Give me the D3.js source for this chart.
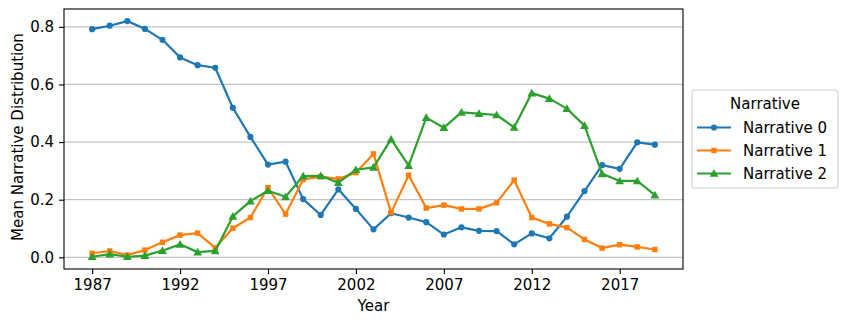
<!DOCTYPE html>
<html>
<head>
<meta charset="utf-8">
<script src="https://cdn.jsdelivr.net/npm/d3@7"></script>
<style>
    body { margin: 0; background: #fff; }
    svg text { font-family: "DejaVu Sans", sans-serif; fill: #000; }
</style>
</head>
<body>
<div id="chart"></div>
<script>
// data
const years = d3.range(1987, 2020);
const narrative0 = [0.792, 0.804, 0.820, 0.793, 0.755, 0.694, 0.667, 0.658, 0.519, 0.418,
    0.322, 0.332, 0.202, 0.147, 0.236, 0.168, 0.097, 0.153, 0.138, 0.122,
    0.079, 0.104, 0.092, 0.091, 0.045, 0.083, 0.066, 0.141, 0.230, 0.320,
    0.307, 0.399, 0.391];
const narrative1 = [0.014, 0.022, 0.008, 0.025, 0.052, 0.077, 0.084, 0.033, 0.101, 0.138,
    0.242, 0.150, 0.270, 0.280, 0.272, 0.294, 0.359, 0.155, 0.285, 0.171,
    0.181, 0.168, 0.168, 0.189, 0.268, 0.138, 0.116, 0.103, 0.062, 0.032,
    0.044, 0.036, 0.027];
const narrative2 = [0.002, 0.011, 0.002, 0.006, 0.023, 0.045, 0.018, 0.022, 0.142, 0.195,
    0.231, 0.210, 0.282, 0.283, 0.259, 0.304, 0.312, 0.410, 0.318, 0.485,
    0.450, 0.503, 0.499, 0.494, 0.451, 0.570, 0.551, 0.516, 0.457, 0.290,
    0.265, 0.265, 0.216];
const seriesNames = ['Narrative 0', 'Narrative 1', 'Narrative 2'];
const yTicks = [0, 0.2, 0.4, 0.6, 0.8];
const xTicks = [1987, 1992, 1997, 2002, 2007, 2012, 2017];

const colors = ['#1f77b4', '#ff7f0e', '#2ca02c'];
const symbols = [d3.symbolCircle, d3.symbolSquare, d3.symbolTriangle];
const symbolSizes = [30, 30, 34];

const series = [narrative0, narrative1, narrative2].map((vals, i) => ({
    name: seriesNames[i],
    values: vals.map((v, j) => ({year: years[j], value: v}))
}));

// layout
const width = 847, height = 324;
const margin = {t: 9, r: 164, b: 55, l: 64};
const w = width - margin.l - margin.r;
const h = height - margin.t - margin.b;

const svg = d3.select('#chart')
    .append('svg')
    .attr('width', width)
    .attr('height', height);

const plot = svg.append('g')
    .attr('transform', `translate(${margin.l},${margin.t})`);

// scales (matplotlib-style 5% margins)
const xPad = (2019 - 1987) * 0.05;
const scaleX = d3.scaleLinear()
    .domain([1987 - xPad, 2019 + xPad])
    .range([0, w]);
const scaleY = d3.scaleLinear()
    .domain([-0.0406, 0.862])
    .range([h, 0]);

// grid lines
plot.append('g')
    .selectAll('line')
    .data(yTicks)
    .join('line')
    .attr('x1', 0)
    .attr('x2', w)
    .attr('y1', d => scaleY(d))
    .attr('y2', d => scaleY(d))
    .style('stroke', '#c4c4c4')
    .style('stroke-width', 1.2);

// lines + markers
const line = d3.line()
    .x(d => scaleX(d.year))
    .y(d => scaleY(d.value));

const groups = plot.selectAll('.series')
    .data(series)
    .join('g')
    .attr('class', 'series');

groups.append('path')
    .attr('d', d => line(d.values))
    .style('fill', 'none')
    .style('stroke', (d, i) => colors[i])
    .style('stroke-width', 2.2)
    .style('stroke-linejoin', 'round');

groups.each(function(d, i) {
    d3.select(this).selectAll('.marker')
        .data(d.values)
        .join('path')
        .attr('class', 'marker')
        .attr('transform', p => `translate(${scaleX(p.year)},${scaleY(p.value) + (i === 2 ? 0.8 : 0)})`)
        .attr('d', d3.symbol().type(symbols[i]).size(symbolSizes[i]))
        .style('fill', colors[i]);
});

// axes
const axisX = d3.axisBottom(scaleX)
    .tickValues(xTicks)
    .tickFormat(d3.format('d'))
    .tickSize(5)
    .tickPadding(5);
const axisY = d3.axisLeft(scaleY)
    .tickValues(yTicks)
    .tickFormat(d3.format('.1f'))
    .tickSize(5)
    .tickPadding(5);

const axisXNode = plot.append('g')
    .attr('transform', `translate(0,${h})`)
    .call(axisX);
const axisYNode = plot.append('g')
    .call(axisY);

[axisXNode, axisYNode].forEach(a => {
    a.select('.domain').remove();
    a.selectAll('.tick line').style('stroke', '#000').style('stroke-width', 1.1);
    a.selectAll('.tick text')
        .style('font-size', '15px')
        .style('font-family', '"DejaVu Sans", sans-serif');
});

// frame
plot.append('rect')
    .attr('width', w)
    .attr('height', h)
    .style('fill', 'none')
    .style('stroke', '#000')
    .style('stroke-width', 1.1);

// axis titles
svg.append('text')
    .attr('x', margin.l + w / 2)
    .attr('y', 311)
    .attr('text-anchor', 'middle')
    .style('font-size', '15px')
    .text('Year');

svg.append('text')
    .attr('transform', `translate(23,${margin.t + h / 2 - 2}) rotate(-90)`)
    .attr('text-anchor', 'middle')
    .style('font-size', '15px')
    .text('Mean Narrative Distribution');

// legend
const legend = svg.append('g')
    .attr('transform', 'translate(692,90)');

legend.append('rect')
    .attr('width', 146)
    .attr('height', 98)
    .attr('rx', 3)
    .style('fill', '#fff')
    .style('stroke', '#d0d0d0')
    .style('stroke-width', 1.1);

legend.append('text')
    .attr('x', 73)
    .attr('y', 19)
    .attr('text-anchor', 'middle')
    .style('font-size', '15px')
    .text('Narrative');

const items = legend.selectAll('.item')
    .data(series)
    .join('g')
    .attr('class', 'item')
    .attr('transform', (d, i) => `translate(0,${37.5 + i * 23})`);

items.append('line')
    .attr('x1', 5)
    .attr('x2', 39)
    .style('stroke', (d, i) => colors[i])
    .style('stroke-width', 2.2);

items.append('path')
    .attr('transform', (d, i) => `translate(22,${i === 2 ? 0.8 : 0})`)
    .attr('d', (d, i) => d3.symbol().type(symbols[i]).size(symbolSizes[i])())
    .style('fill', (d, i) => colors[i]);

items.append('text')
    .attr('x', 51)
    .attr('y', 5.5)
    .style('font-size', '15px')
    .text(d => d.name);
</script>
</body>
</html>
